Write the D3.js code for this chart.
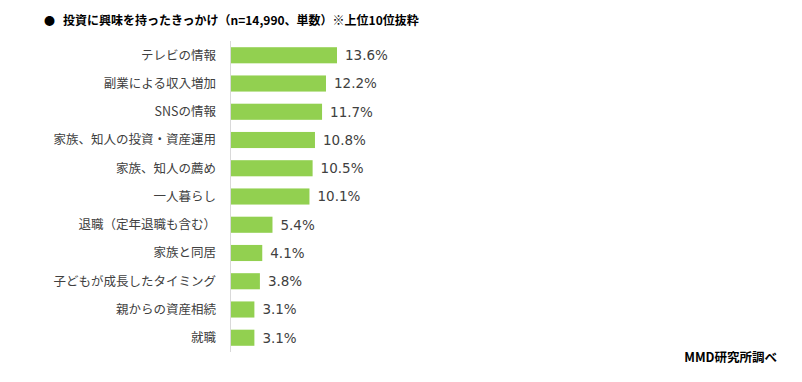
<!DOCTYPE html>
<html>
<head>
<meta charset="utf-8">
<script src="https://cdn.jsdelivr.net/npm/d3@7"></script>
<style>
  body { margin: 0; background: #fff; }
  text { font-family: "Noto Sans CJK JP", "Noto Sans", sans-serif; }
</style>
</head>
<body>
<svg width="802" height="382"></svg>
<script>
// Data
const categories = [
  "テレビの情報",
  "副業による収入増加",
  "SNSの情報",
  "家族、知人の投資・資産運用",
  "家族、知人の薦め",
  "一人暮らし",
  "退職（定年退職も含む）",
  "家族と同居",
  "子どもが成長したタイミング",
  "親からの資産相続",
  "就職"
];
const values = [13.6, 12.2, 11.7, 10.8, 10.5, 10.1, 5.4, 4.1, 3.8, 3.1, 3.1];

const data = categories.map((c, i) => ({ name: c, value: values[i] }));

const svg = d3.select("svg");

// Scales
const x = d3.scaleLinear().domain([0, 13.6]).range([230, 337]);
const y = d3.scaleBand()
  .domain(categories)
  .range([41, 352])
  .paddingInner(0.43)
  .paddingOuter(0.22);

// Title
svg.append("text")
  .attr("x", 44)
  .attr("y", 25)
  .attr("font-size", 11)
  .attr("font-weight", "bold")
  .attr("fill", "#000")
  .text("●");
svg.append("text")
  .attr("x", 63)
  .attr("y", 25)
  .attr("font-size", 12)
  .attr("font-weight", "bold")
  .attr("fill", "#000")
  .text("投資に興味を持ったきっかけ（n=14,990、単数）※上位10位抜粋");

// Bars
svg.selectAll("rect.bar")
  .data(data)
  .enter()
  .append("rect")
  .attr("class", "bar")
  .attr("x", x(0))
  .attr("y", (d) => y(d.name))
  .attr("width", (d) => x(d.value) - x(0))
  .attr("height", y.bandwidth())
  .attr("fill", "#92d050");

// Axis line
svg.append("line")
  .attr("x1", 230.5).attr("x2", 230.5)
  .attr("y1", 41).attr("y2", 352)
  .attr("stroke", "#d9d9d9")
  .attr("stroke-width", 1);

// Category labels
svg.selectAll("text.cat")
  .data(data)
  .enter()
  .append("text")
  .attr("class", "cat")
  .attr("x", 216)
  .attr("y", (d) => y(d.name) + y.bandwidth() / 2)
  .attr("dy", "0.35em")
  .attr("text-anchor", "end")
  .attr("font-size", 12.5)
  .attr("fill", "#404040")
  .text((d) => d.name);

// Value labels
svg.selectAll("text.val")
  .data(data)
  .enter()
  .append("text")
  .attr("class", "val")
  .attr("x", (d) => x(d.value) + 8)
  .attr("y", (d) => y(d.name) + y.bandwidth() / 2)
  .attr("dy", "0.36em")
  .style("font-family", "'DejaVu Sans', sans-serif")
  .attr("font-size", 13.5)
  .attr("fill", "#404040")
  .text((d) => d.value.toFixed(1) + "%");

// Source
svg.append("text")
  .attr("x", 777)
  .attr("y", 362)
  .attr("text-anchor", "end")
  .attr("font-size", 12.5)
  .attr("font-weight", "bold")
  .attr("fill", "#000")
  .text("MMD研究所調べ");
</script>
</body>
</html>
